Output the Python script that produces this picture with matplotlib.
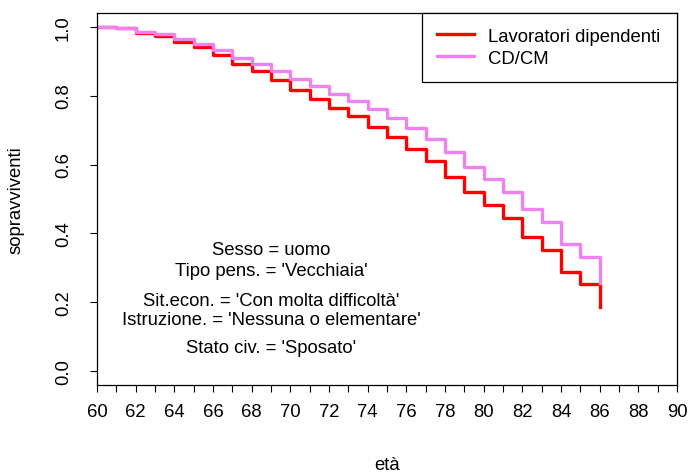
import matplotlib
matplotlib.use("Agg")
import matplotlib.pyplot as plt
from matplotlib.ticker import MultipleLocator

plt.rcParams['font.family'] = ['Liberation Sans', 'DejaVu Sans']

eta = list(range(60, 87))
dipendenti = [1.000, 0.995, 0.983, 0.973, 0.955, 0.940, 0.917, 0.891, 0.870,
              0.845, 0.816, 0.789, 0.765, 0.740, 0.709, 0.679, 0.645, 0.611,
              0.565, 0.521, 0.482, 0.444, 0.390, 0.352, 0.289, 0.253, 0.185]
cdcm = [1.000, 0.996, 0.985, 0.980, 0.963, 0.950, 0.932, 0.909, 0.893,
        0.872, 0.849, 0.828, 0.806, 0.785, 0.762, 0.736, 0.706, 0.674,
        0.637, 0.594, 0.558, 0.521, 0.471, 0.432, 0.369, 0.332, 0.256]
labels = ["Lavoratori dipendenti", "CD/CM"]
note_lines = ["Sesso = uomo", "Tipo pens. = 'Vecchiaia'",
              "Sit.econ. = 'Con molta difficoltà'",
              "Istruzione. = 'Nessuna o elementare'",
              "Stato civ. = 'Sposato'"]
note_y = [0.352, 0.291, 0.206, 0.151, 0.070]

fs = 13.3

fig = plt.figure(figsize=(6.89, 4.77), dpi=100)
ax = fig.add_axes([0.1408, 0.1908, 0.8418, 0.78])

ax.step(eta, dipendenti, where='post', color='#FF0000', lw=2.4, label=labels[0])
ax.step(eta, cdcm, where='post', color='#EE82EE', lw=2.4, label=labels[1])

ax.set_xlim(60, 90)
ax.set_ylim(-0.04, 1.04)
ax.xaxis.set_major_locator(MultipleLocator(2))
ax.xaxis.set_minor_locator(MultipleLocator(1))
ax.set_yticks([0.0, 0.2, 0.4, 0.6, 0.8, 1.0])
ax.set_yticklabels(["0.0", "0.2", "0.4", "0.6", "0.8", "1.0"], rotation=90, va='center')
ax.tick_params(which='both', direction='out', length=5, width=0.8, labelsize=fs)
ax.tick_params(axis='x', pad=8)
ax.tick_params(axis='y', pad=13)

ax.set_xlabel("età", fontsize=fs)
ax.set_ylabel("sopravviventi", fontsize=fs)
ax.xaxis.set_label_coords(0.5, -0.19)
ax.yaxis.set_label_coords(-0.125, 0.5)

for s in ax.spines.values():
    s.set_linewidth(0.9)

for txt, yy in zip(note_lines, note_y):
    ax.text(69, yy, txt, ha='center', va='center', fontsize=fs)

leg = ax.legend(loc='upper left', bbox_to_anchor=(0.560, 0.0, 0.44, 1.0),
                mode='expand', fancybox=False, edgecolor='black', framealpha=1,
                fontsize=fs, handlelength=2.0, handletextpad=0.8,
                borderpad=0.8, labelspacing=0.28, borderaxespad=0)
leg.get_frame().set_linewidth(0.9)

fig.savefig("out.png", dpi=100)
